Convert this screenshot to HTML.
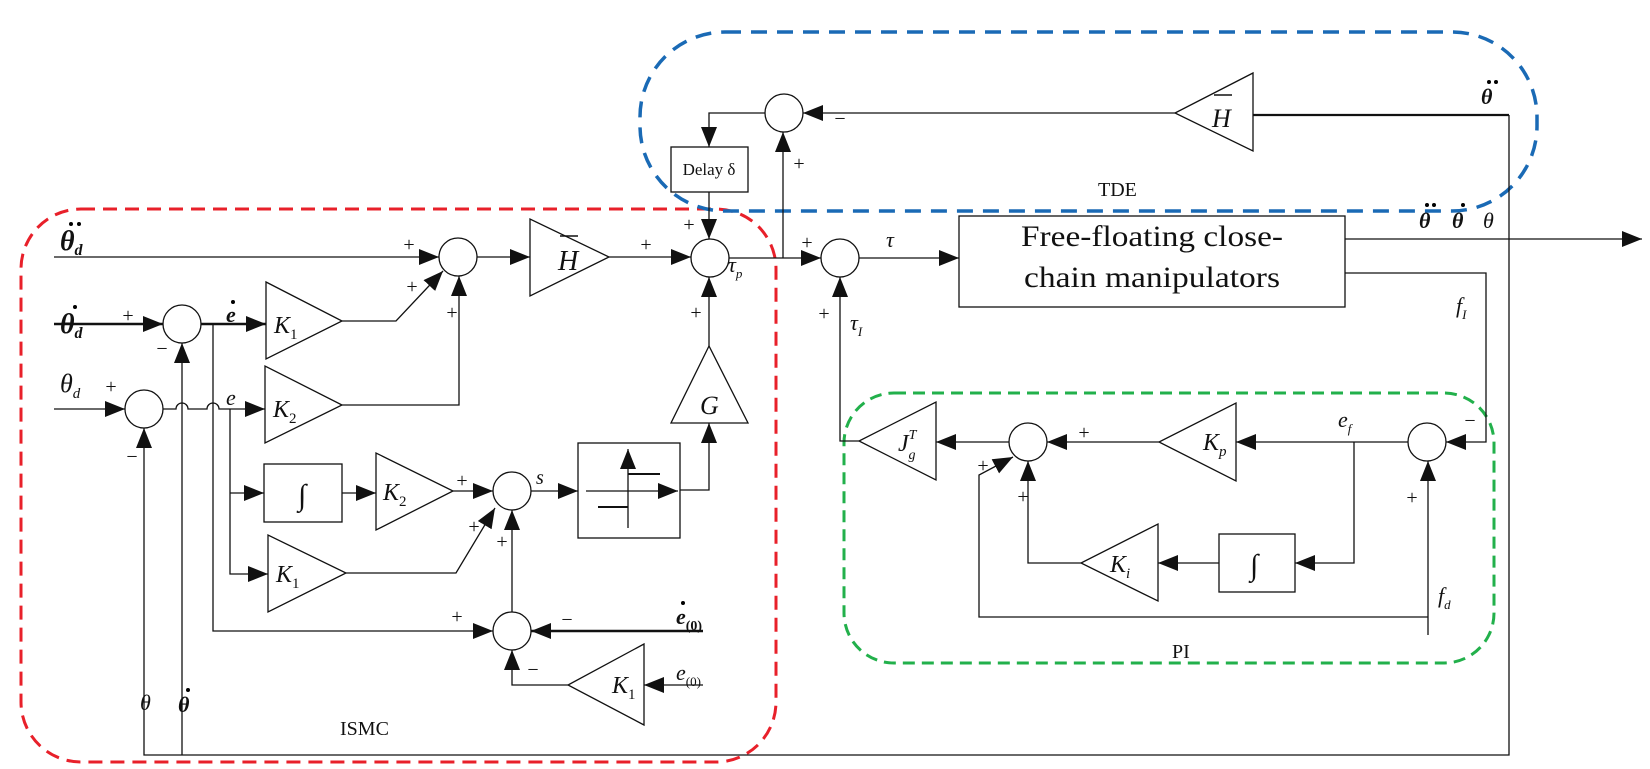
<!DOCTYPE html>
<html><head><meta charset="utf-8"><style>
html,body{margin:0;padding:0;background:#fff;}
svg{display:block;}
text{font-family:"Liberation Serif",serif;fill:#111;}
.i{font-style:italic;}
.b{font-weight:bold;}
</style></head><body>
<svg width="1650" height="769" viewBox="0 0 1650 769" xmlns="http://www.w3.org/2000/svg">
<defs>
<marker id="a" markerUnits="userSpaceOnUse" markerWidth="22" markerHeight="18" refX="20" refY="8" orient="auto">
<path d="M0,0 L20,8 L0,16 z" fill="#111"/></marker>
</defs>
<rect x="21" y="209" width="755" height="553" rx="60" fill="none" stroke="#e8202a" stroke-width="3" stroke-dasharray="14 8"/>
<rect x="640" y="32" width="897" height="179" rx="85" fill="none" stroke="#1a6ab5" stroke-width="3.5" stroke-dasharray="16 10"/>
<rect x="844" y="393" width="650" height="270" rx="50" fill="none" stroke="#22b04b" stroke-width="3" stroke-dasharray="12 7"/>

<g fill="none" stroke="#111" stroke-width="1.3">
<circle cx="458" cy="257" r="19"/><circle cx="182" cy="324" r="19"/><circle cx="144" cy="409" r="19"/>
<circle cx="710" cy="258" r="19"/><circle cx="512" cy="491" r="19"/><circle cx="512" cy="631" r="19"/>
<circle cx="840" cy="258" r="19"/><circle cx="784" cy="113" r="19"/><circle cx="1028" cy="442" r="19"/>
<circle cx="1427" cy="442" r="19"/>
<polygon points="530,219 530,296 609,257"/>
<polygon points="709,346 671,423 748,423"/>
<rect x="578" y="443" width="102" height="95"/>
<rect x="671" y="147" width="77" height="45"/>
<polygon points="1253,73 1253,151 1175,113"/>
<rect x="959" y="216" width="386" height="91"/>
<polygon points="266,282 266,359 342,321"/>
<polygon points="265,366 265,443 342,405"/>
<rect x="264" y="464" width="78" height="58"/>
<polygon points="376,453 376,530 453,491"/>
<polygon points="268,535 268,612 346,573"/>
<polygon points="644,644 644,725 568,685"/>
<polygon points="936,402 936,480 859,441"/>
<polygon points="1236,403 1236,481 1159,442"/>
<rect x="1219" y="534" width="76" height="58"/>
<polygon points="1158,524 1158,601 1081,563"/>
<path d="M628 528 V449" marker-end="url(#a)"/>
<path d="M586 491 H678" marker-end="url(#a)"/>
<path d="M628 474 H660 M598 507 H628" stroke-width="2"/>
<path d="M54 257 H439" marker-end="url(#a)"/>
<path d="M477 257 H530" marker-end="url(#a)"/>
<path d="M609 257 H691" marker-end="url(#a)"/>
<path d="M709 192 V239" marker-end="url(#a)"/>
<path d="M709 346 V277" marker-end="url(#a)"/>
<path d="M680 490 H709 V423" marker-end="url(#a)"/>
<path d="M729 258 H821" marker-end="url(#a)"/>
<path d="M783 258 V132" marker-end="url(#a)"/>
<path d="M1509 115 H1253" stroke-width="2.2"/>
<path d="M1175 113 H803" marker-end="url(#a)"/>
<path d="M765 113 H709 V147" marker-end="url(#a)"/>
<path d="M859 258 H959" marker-end="url(#a)"/>
<path d="M1345 239 H1642" marker-end="url(#a)"/>
<path d="M1345 273 H1486 V442 H1446" marker-end="url(#a)"/>
<path d="M1509 115 V755 H144 V428" marker-end="url(#a)"/>
<path d="M182 755 V343" marker-end="url(#a)"/>
<path d="M54 324 H163" stroke-width="2.6" marker-end="url(#a)"/>
<path d="M201 324 H266" stroke-width="2.6" marker-end="url(#a)"/>
<path d="M342 321 H396 L443 271" marker-end="url(#a)"/>
<path d="M342 405 H459 V276" marker-end="url(#a)"/>
<path d="M54 409 H125" marker-end="url(#a)"/>
<path d="M163 409 H176 A6 6 0 0 1 188 409 H207 A6 6 0 0 1 219 409 H265" marker-end="url(#a)"/>
<path d="M213 324 V631 H493" marker-end="url(#a)"/>
<path d="M230 409 V574 H268" marker-end="url(#a)"/>
<path d="M230 493 H264" marker-end="url(#a)"/>
<path d="M342 493 H376" marker-end="url(#a)"/>
<path d="M453 491 H493" marker-end="url(#a)"/>
<path d="M346 573 H456 L495 508" marker-end="url(#a)"/>
<path d="M512 612 V510" marker-end="url(#a)"/>
<path d="M531 491 H578" marker-end="url(#a)"/>
<path d="M703 631 H531" stroke-width="2.6" marker-end="url(#a)"/>
<path d="M568 685 H512 V650" marker-end="url(#a)"/>
<path d="M703 685 H644" marker-end="url(#a)"/>
<path d="M859 441 H840 V277" marker-end="url(#a)"/>
<path d="M1009 442 H936" marker-end="url(#a)"/>
<path d="M1159 442 H1047" marker-end="url(#a)"/>
<path d="M1408 442 H1236" marker-end="url(#a)"/>
<path d="M1354 442 V563 H1295" marker-end="url(#a)"/>
<path d="M1219 563 H1158" marker-end="url(#a)"/>
<path d="M1081 563 H1028 V461" marker-end="url(#a)"/>
<path d="M1428 635 V461" marker-end="url(#a)"/>
<path d="M1428 617 H979 V475 L1013 457" marker-end="url(#a)"/>
</g>

<text x="558" y="270" class="i" font-size="28">H</text><line x1="560" y1="236" x2="578" y2="236" stroke="#111" stroke-width="1.5"/>
<text x="1212" y="127" class="i" font-size="26">H</text><line x1="1214" y1="95" x2="1232" y2="95" stroke="#111" stroke-width="1.5"/>
<text x="700" y="414" class="i" font-size="26">G</text>
<text x="709" y="175" font-size="17" text-anchor="middle">Delay δ</text>
<text x="298" y="505" font-size="30" class="i">∫</text>
<text x="1250" y="575" font-size="30" class="i">∫</text>
<text x="1152" y="246" font-size="30" text-anchor="middle" textLength="262" lengthAdjust="spacingAndGlyphs">Free-floating close-</text>
<text x="1152" y="287" font-size="30" text-anchor="middle" textLength="256" lengthAdjust="spacingAndGlyphs">chain manipulators</text>
<text x="274" y="333" class="i" font-size="24">K<tspan font-size="15" dy="6" font-style="normal">1</tspan></text>
<text x="273" y="417" class="i" font-size="24">K<tspan font-size="15" dy="6" font-style="normal">2</tspan></text>
<text x="383" y="500" class="i" font-size="24">K<tspan font-size="15" dy="6" font-style="normal">2</tspan></text>
<text x="276" y="582" class="i" font-size="24">K<tspan font-size="15" dy="6" font-style="normal">1</tspan></text>
<text x="612" y="693" class="i" font-size="24">K<tspan font-size="15" dy="6" font-style="normal">1</tspan></text>
<text x="1203" y="450" class="i" font-size="24">K<tspan font-size="15" dy="6">p</tspan></text>
<text x="1110" y="572" class="i" font-size="24">K<tspan font-size="15" dy="6">i</tspan></text>
<text x="898" y="451" class="i" font-size="24">J<tspan font-size="14" dy="-12">T</tspan><tspan font-size="14" dx="-8" dy="20">g</tspan></text>

<text x="60" y="250" class="i b" font-size="28">θ<tspan font-size="16" dy="5">d</tspan></text>
<circle cx="71" cy="224" r="2"/><circle cx="79" cy="224" r="2"/>
<text x="60" y="333" class="i b" font-size="28">θ<tspan font-size="16" dy="5">d</tspan></text>
<circle cx="75" cy="307" r="2"/>
<text x="60" y="392" class="i" font-size="26">θ<tspan font-size="15" dy="6">d</tspan></text>
<text x="226" y="322" class="i b" font-size="22">e</text><circle cx="233" cy="302" r="2"/>
<text x="226" y="405" class="i" font-size="22">e</text>
<text x="536" y="484" class="i" font-size="20">s</text>
<text x="728" y="272" class="i" font-size="22">τ<tspan font-size="13" dy="6">p</tspan></text>
<text x="886" y="247" class="i" font-size="22">τ</text>
<text x="850" y="330" class="i" font-size="22">τ<tspan font-size="13" dy="6">I</tspan></text>
<text x="676" y="624" class="i b" font-size="22">e<tspan font-size="14" dy="6" font-style="normal">(0)</tspan></text><circle cx="683" cy="603" r="2"/>
<text x="676" y="680" class="i" font-size="22">e<tspan font-size="13" dy="6" font-style="normal">(0)</tspan></text>
<text x="140" y="710" class="i" font-size="22">θ</text>
<text x="178" y="712" class="i b" font-size="22">θ</text><circle cx="188" cy="690" r="2"/>
<text x="1338" y="427" class="i" font-size="22">e<tspan font-size="13" dy="6">f</tspan></text>
<text x="1456" y="313" class="i" font-size="22">f<tspan font-size="13" dy="6">I</tspan></text>
<text x="1438" y="603" class="i" font-size="22">f<tspan font-size="13" dy="6">d</tspan></text>
<text x="1481" y="104" class="i b" font-size="22">θ</text><circle cx="1489" cy="82" r="2"/><circle cx="1496" cy="82" r="2"/>
<text x="1419" y="228" class="i b" font-size="22">θ</text><circle cx="1427" cy="205" r="2"/><circle cx="1434" cy="205" r="2"/>
<text x="1452" y="228" class="i b" font-size="22">θ</text><circle cx="1463" cy="205" r="2"/>
<text x="1483" y="228" class="i" font-size="22">θ</text>
<text x="340" y="735" font-size="20">ISMC</text>
<text x="1172" y="658" font-size="20">PI</text>
<text x="1098" y="196" font-size="20">TDE</text>

<g font-size="20" text-anchor="middle">
<text x="409" y="251">+</text><text x="412" y="293">+</text><text x="452" y="319">+</text>
<text x="646" y="251">+</text><text x="689" y="231">+</text><text x="696" y="319">+</text>
<text x="128" y="322">+</text><text x="162" y="355">−</text>
<text x="111" y="393">+</text><text x="132" y="463">−</text>
<text x="462" y="487">+</text><text x="474" y="533">+</text><text x="502" y="548">+</text>
<text x="457" y="623">+</text><text x="567" y="626">−</text><text x="533" y="676">−</text>
<text x="807" y="249">+</text><text x="824" y="320">+</text>
<text x="840" y="125">−</text><text x="799" y="170">+</text>
<text x="1084" y="439">+</text><text x="983" y="472">+</text><text x="1023" y="503">+</text>
<text x="1412" y="504">+</text><text x="1470" y="427">−</text>
</g>
</svg>
</body></html>
